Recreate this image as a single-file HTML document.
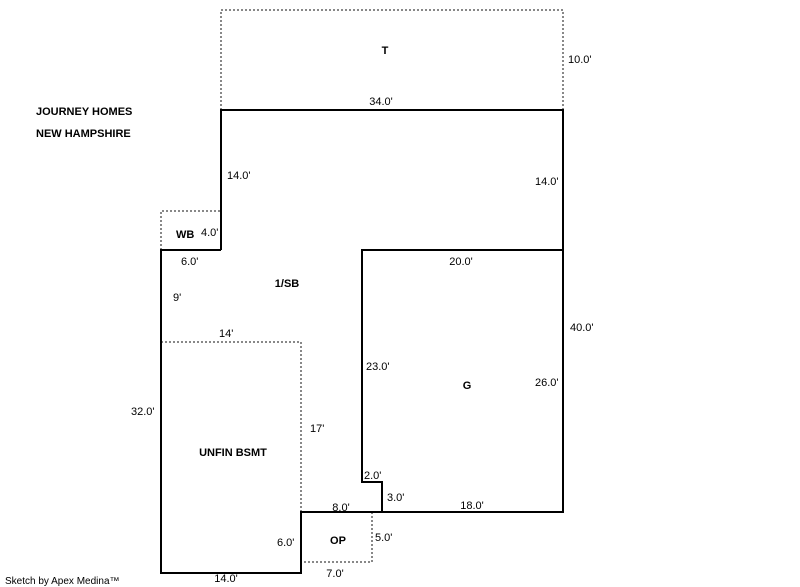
<!DOCTYPE html>
<html><head><style>
html,body{margin:0;padding:0;background:#fff;width:800px;height:587px;overflow:hidden}
svg{display:block}
text{font-family:"Liberation Sans",Arial,sans-serif;font-size:11px;fill:#000}
.b{font-weight:bold}
.s{stroke:#000;stroke-width:2;fill:none}
.d{stroke:#888;stroke-width:2;stroke-dasharray:2,2;fill:none}
</style></head><body>
<svg width="800" height="587" viewBox="0 0 800 587">
<!-- dashed -->
<polyline class="d" points="221,110 221,10 563,10 563,110"/>
<polyline class="d" points="161,250 161,211 221,211"/>
<polyline class="d" points="161,342 301,342 301,512"/>
<polyline class="d" points="372,512 372,562 301,562"/>
<!-- solid -->
<polyline class="s" points="221,250 221,110 563,110 563,512 382,512 382,482 362,482 362,250 563,250"/>
<polyline class="s" points="382,512 301,512 301,573 161,573 161,250 221,250"/>
<!-- labels -->
<text class="b" x="36" y="115">JOURNEY HOMES</text>
<text class="b" x="36" y="137">NEW HAMPSHIRE</text>
<text x="5" y="584" style="font-size:10px">Sketch by Apex Medina™</text>
<text class="b" x="385" y="54" text-anchor="middle">T</text>
<text x="568" y="63">10.0'</text>
<text x="381" y="105" text-anchor="middle">34.0'</text>
<text x="227" y="179">14.0'</text>
<text x="535" y="185">14.0'</text>
<text class="b" x="176" y="238">WB</text>
<text x="201" y="236">4.0'</text>
<text x="181" y="265">6.0'</text>
<text x="461" y="265" text-anchor="middle">20.0'</text>
<text class="b" x="287" y="287" text-anchor="middle">1/SB</text>
<text x="173" y="301">9'</text>
<text x="219" y="337">14'</text>
<text x="570" y="331">40.0'</text>
<text x="366" y="370">23.0'</text>
<text class="b" x="467" y="389" text-anchor="middle">G</text>
<text x="535" y="386">26.0'</text>
<text x="131" y="415">32.0'</text>
<text x="310" y="432">17'</text>
<text class="b" x="233" y="456" text-anchor="middle">UNFIN BSMT</text>
<text x="364" y="479">2.0'</text>
<text x="387" y="501">3.0'</text>
<text x="341" y="511" text-anchor="middle">8.0'</text>
<text x="472" y="509" text-anchor="middle">18.0'</text>
<text class="b" x="338" y="544" text-anchor="middle">OP</text>
<text x="375" y="541">5.0'</text>
<text x="277" y="546">6.0'</text>
<text x="335" y="577" text-anchor="middle">7.0'</text>
<text x="226" y="582" text-anchor="middle">14.0'</text>
</svg>
</body></html>
